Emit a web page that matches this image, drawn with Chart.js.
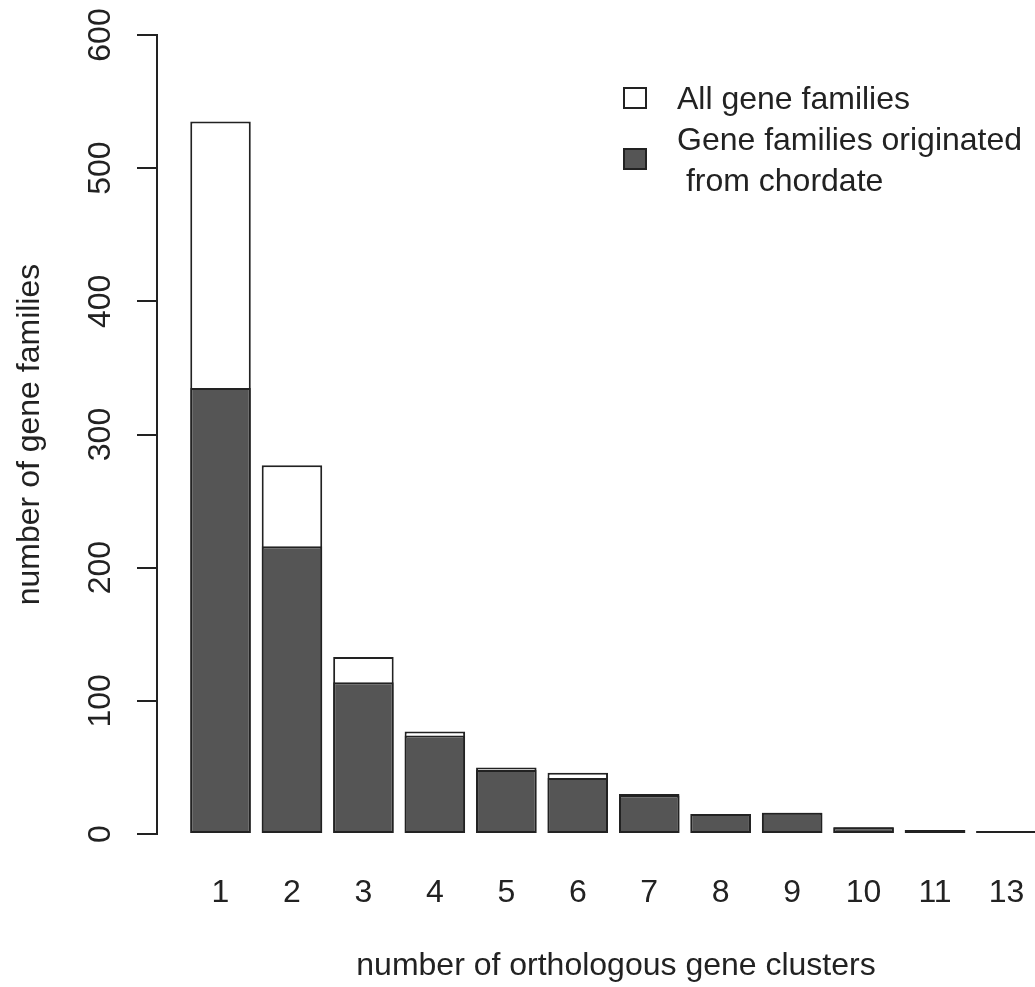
<!DOCTYPE html>
<html>
<head>
<meta charset="utf-8">
<script src="https://cdn.jsdelivr.net/npm/chart.js@4.4.1/dist/chart.umd.min.js"></script>
<style>
html, body { margin: 0; padding: 0; background: #ffffff; overflow: hidden; }
#wrap { position: relative; width: 1035px; height: 987px; overflow: hidden; }
#chart { position: absolute; left: 0; top: 0; }
.lg { position: absolute; font-family: "Liberation Sans", Arial, sans-serif; font-size: 32px; line-height: 37px; color: #222222; white-space: pre; }
.box { position: absolute; box-sizing: border-box; width: 24px; height: 22px; border: 2px solid #222222; }
</style>
</head>
<body>
<div id="wrap">
  <canvas id="chart" width="1075" height="987"></canvas>
  <div class="box" style="left:623px; top:87px; background:#ffffff;"></div>
  <div class="lg" style="left:677px; top:80px;">All gene families</div>
  <div class="box" style="left:623px; top:148px; background:#555555;"></div>
  <div class="lg" style="left:677px; top:121px;">Gene families originated</div>
  <div class="lg" style="left:677px; top:162px;"> from chordate</div>
</div>
<script>
// ---- data ----
const clusterLabels = ['1', '2', '3', '4', '5', '6', '7', '8', '9', '10', '11', '13'];
const allGeneFamilies = [535, 277, 133, 77, 50, 46, 30, 15, 16, 5, 3, 1];
const chordateGeneFamilies = [335, 216, 114, 74, 48, 42, 29, 15, 16, 5, 3, 1];
const yTickValues = [0, 100, 200, 300, 400, 500, 600];

const FONT = '"Liberation Sans", Arial, sans-serif';
const INK = '#222222';

const toPoints = arr => arr.map((v, i) => ({ x: i + 1, y: v }));

new Chart(document.getElementById('chart'), {
  type: 'bar',
  data: {
    datasets: [
      {
        label: 'All gene families',
        data: toPoints(allGeneFamilies),
        backgroundColor: '#ffffff',
        borderColor: INK,
        borderWidth: 2,
        borderSkipped: false,
        grouped: false,
        order: 1,
        minBarLength: 3,
        categoryPercentage: 1,
        barPercentage: 0.847
      },
      {
        label: 'Gene families originated from chordate',
        data: toPoints(chordateGeneFamilies),
        backgroundColor: '#555555',
        borderColor: INK,
        borderWidth: 2,
        borderSkipped: false,
        grouped: false,
        order: 0,
        minBarLength: 3,
        categoryPercentage: 1,
        barPercentage: 0.847
      }
    ]
  },
  options: {
    responsive: false,
    animation: false,
    devicePixelRatio: 1,
    layout: { padding: { top: 35, left: 0, right: 0, bottom: 0 } },
    plugins: {
      legend: { display: false },
      tooltip: { enabled: false }
    },
    scales: {
      x: {
        type: 'linear',
        min: 0.111,
        max: 12.959,
        offset: false,
        afterBuildTicks: s => { s.ticks = clusterLabels.map((l, i) => ({ value: i + 1 })); },
        afterFit: s => { s.height = 153; },
        grid: { display: false, drawTicks: false },
        border: { display: false },
        ticks: {
          autoSkip: false,
          maxRotation: 0,
          minRotation: 0,
          padding: 40,
          color: INK,
          font: { family: FONT, size: 32 },
          callback: v => clusterLabels[v - 1] ?? ''
        },
        title: {
          display: true,
          text: 'number of orthologous gene clusters',
          color: INK,
          font: { family: FONT, size: 32 },
          padding: { top: 0, bottom: 2 }
        }
      },
      y: {
        min: 0,
        max: 600,
        afterBuildTicks: s => { s.ticks = yTickValues.map(v => ({ value: v })); },
        afterFit: s => { s.width = 157; },
        grid: {
          display: true,
          drawOnChartArea: false,
          drawTicks: true,
          tickLength: 20,
          color: INK,
          lineWidth: 2
        },
        border: { display: true, color: INK, width: 2 },
        ticks: {
          minRotation: 90,
          maxRotation: 90,
          crossAlign: 'center',
          padding: 9,
          color: INK,
          font: { family: FONT, size: 32 }
        },
        title: {
          display: true,
          text: 'number of gene families',
          color: INK,
          font: { family: FONT, size: 32 },
          padding: { top: 11, bottom: 0 }
        }
      }
    }
  }
});
</script>
</body>
</html>
